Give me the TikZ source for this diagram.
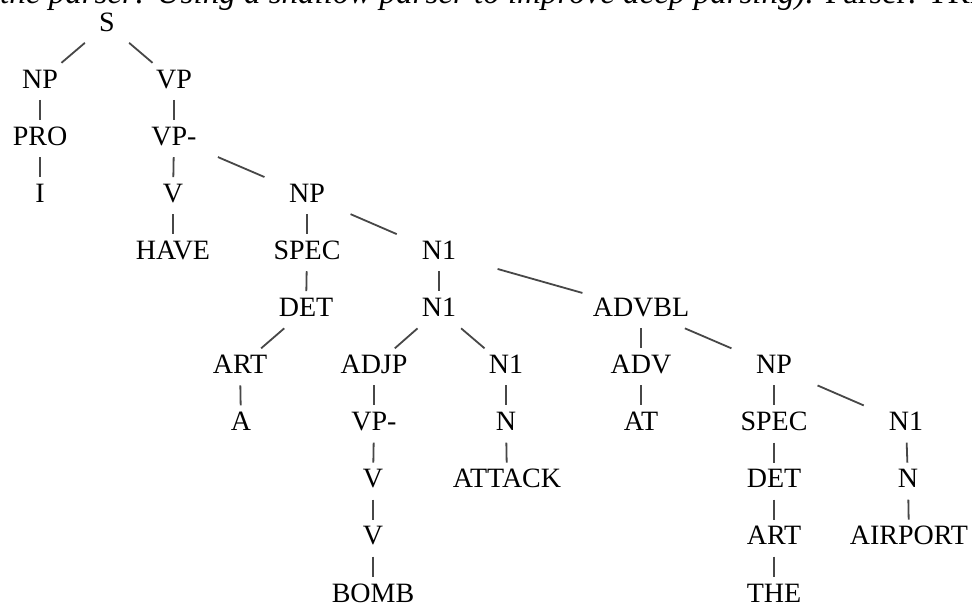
\documentclass[tikz,border=0pt]{standalone}
\usepackage{fontspec}
\setmainfont{Liberation Serif}
\usetikzlibrary{calc}
\tikzset{
  lbl/.style={anchor=base, inner sep=0pt, text height=14pt, text depth=0pt,
              font=\fontsize{28}{30}\selectfont},
  edge/.style={draw=black!72, line width=1.8pt},
}
\newcommand\tedge[2]{\draw[edge] ($(#1)!0.33!(#2)$) -- ($(#1)!0.68!(#2)$);}
\begin{document}
\begin{tikzpicture}[x=1pt,y=1pt]
\useasboundingbox (0,0) rectangle (972,-605);
\clip (0,0) rectangle (972,-605);
% cut-off caption line at the top
\node[anchor=base west, inner sep=0pt, font=\fontsize{33}{36}\selectfont\itshape]
  (cap) at (0,-3) {the parser: Using a shallow parser to improve deep parsing).\upshape{} Parser: TRIPS};
% tree nodes
\node[lbl] (s) at (107,-31) {S};
\node[lbl] (np1) at (40,-88.1) {NP};
\node[lbl] (vp) at (174,-88.1) {VP};
\node[lbl] (pro) at (40,-145.2) {PRO};
\node[lbl] (vpm) at (174,-145.2) {VP-};
\node[lbl] (i) at (40,-202.3) {I};
\node[lbl] (v1) at (173,-202.3) {V};
\node[lbl] (np2) at (307,-202.3) {NP};
\node[lbl] (have) at (173,-259.4) {HAVE};
\node[lbl] (spec1) at (307,-259.4) {SPEC};
\node[lbl] (n1a) at (439,-259.4) {N1};
\node[lbl] (det1) at (306,-316.5) {DET};
\node[lbl] (n1b) at (439,-316.5) {N1};
\node[lbl] (advbl) at (641,-316.5) {ADVBL};
\node[lbl] (art1) at (240,-373.6) {ART};
\node[lbl] (adjp) at (374,-373.6) {ADJP};
\node[lbl] (n1c) at (506,-373.6) {N1};
\node[lbl] (adv) at (641,-373.6) {ADV};
\node[lbl] (np3) at (774,-373.6) {NP};
\node[lbl] (a) at (241,-430.7) {A};
\node[lbl] (vpm2) at (374,-430.7) {VP-};
\node[lbl] (n1) at (506,-430.7) {N};
\node[lbl] (at) at (641,-430.7) {AT};
\node[lbl] (spec2) at (774,-430.7) {SPEC};
\node[lbl] (n1d) at (906,-430.7) {N1};
\node[lbl] (v2) at (373,-487.8) {V};
\node[lbl] (attack) at (507,-487.8) {ATTACK};
\node[lbl] (det2) at (774,-487.8) {DET};
\node[lbl] (n2) at (908,-487.8) {N};
\node[lbl] (v3) at (373,-544.9) {V};
\node[lbl] (art2) at (774,-544.9) {ART};
\node[lbl] (airport) at (909,-544.9) {AIRPORT};
\node[lbl] (bomb) at (373,-602) {BOMB};
\node[lbl] (the) at (774,-602) {THE};
% edges
\tedge{s}{np1}
\tedge{s}{vp}
\tedge{np1}{pro}
\tedge{pro}{i}
\tedge{vp}{vpm}
\tedge{vpm}{v1}
\tedge{vpm}{np2}
\tedge{v1}{have}
\tedge{np2}{spec1}
\tedge{np2}{n1a}
\tedge{spec1}{det1}
\tedge{n1a}{n1b}
\draw[edge] ($(n1a)!0.29!(advbl)$) -- ($(n1a)!0.71!(advbl)$);
\tedge{det1}{art1}
\tedge{n1b}{adjp}
\tedge{n1b}{n1c}
\tedge{advbl}{adv}
\tedge{advbl}{np3}
\tedge{art1}{a}
\tedge{adjp}{vpm2}
\tedge{n1c}{n1}
\tedge{adv}{at}
\tedge{np3}{spec2}
\tedge{np3}{n1d}
\tedge{vpm2}{v2}
\tedge{n1}{attack}
\tedge{spec2}{det2}
\tedge{n1d}{n2}
\tedge{v2}{v3}
\tedge{det2}{art2}
\tedge{n2}{airport}
\tedge{v3}{bomb}
\tedge{art2}{the}
\end{tikzpicture}
\end{document}
